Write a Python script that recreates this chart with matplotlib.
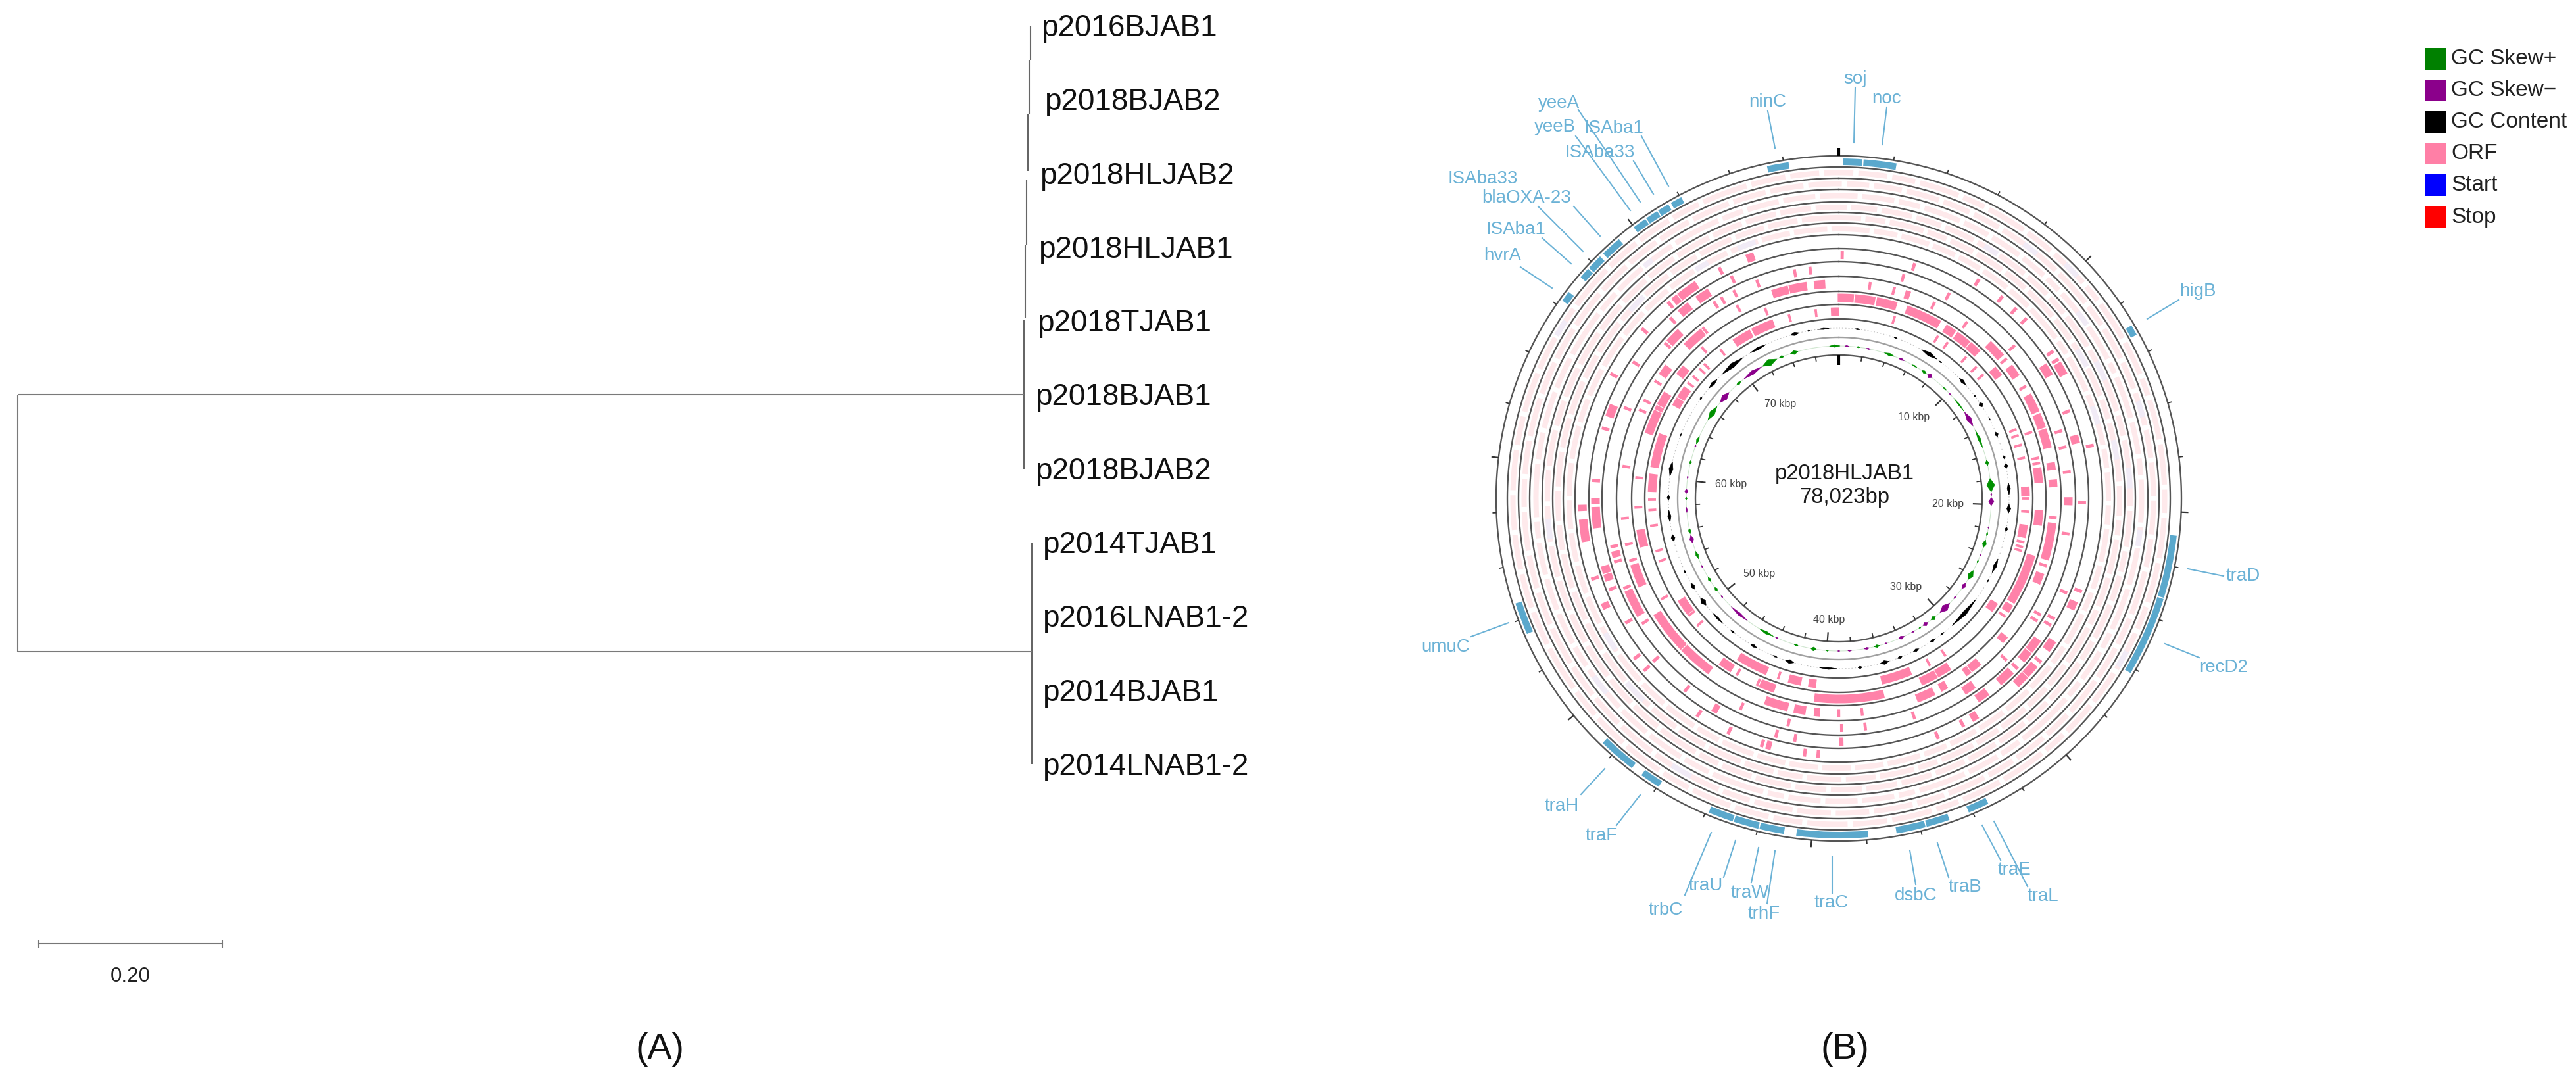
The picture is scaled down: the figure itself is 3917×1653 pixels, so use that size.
import numpy as np
import matplotlib
matplotlib.use("Agg")
import matplotlib.pyplot as plt

plt.rcParams['font.family'] = ['Liberation Sans', 'DejaVu Sans']

W, H = 3917, 1653
CX, CY = 2796, 758
RMAX = 750

# tree (A)
leaf_names = ['p2016BJAB1', 'p2018BJAB2', 'p2018HLJAB2', 'p2018HLJAB1', 'p2018TJAB1', 'p2018BJAB1',
              'p2018BJAB2', 'p2014TJAB1', 'p2016LNAB1-2', 'p2014BJAB1', 'p2014LNAB1-2']
leaf_label_dist = [1.1140, 1.1175, 1.1125, 1.1110, 1.1095, 1.1075, 1.1075, 1.1155, 1.1155, 1.1155, 1.1155]
# distance, first row, last row
ladder_x = [1.1024, 1.1012, 1.0995, 1.0984, 1.0966, 1.0952, 1.1038]
ladder_y0 = [0.00, 0.47, 1.20, 2.08, 2.97, 3.99, 7.00]
ladder_y1 = [0.47, 1.20, 1.97, 2.97, 3.95, 6.00, 10.00]
root_y = [5.0, 8.48]
root_end = [1.0952, 1.1038]
scale_len = 0.20

# plasmid map (B), all arcs in degrees clockwise from the 0 kbp tick
genome_kbp = 78.023
track_edges = [521, 504, 487, 470, 451, 435, 419, 401, 380, 360, 338, 315, 295, 273, 218]
gene_arcs = [(-12.2, -8.5), (0.7, 4.0), (4.2, 9.8), (-29.6, -27.6), (-37.1, -34.7), (-34.5, -32.3), (-32.1, -30.1),
             (-43.9, -40.3), (-47.3, -44.6), (-49.4, -47.5), (-54.4, -52.6), (59.4, 61.2), (96.3, 107), (107.2, 120.9),
             (246.5, 252), (217.5, 224), (212, 215.5), (189.3, 193.5), (193.7, 198), (198.2, 202.5), (175, 187.2),
             (161, 165), (165.2, 170.2), (153.9, 157.5)]

orf1_thin = [32.6, 39, 43, 46.2, 55.5, 57.6, 78.2, 111, 129, 151.3, 157.5, 213, 205.2, 197.3, 187.6, 184.6, 228.5,
             231.9, 245.7, 245, 251.9, 298.7, 310.8, 319, 332.6]
orf1_block = [(58.3, 61.3), (113.5, 115.5), (123.5, 126.1), (130.3, 133.3), (133.4, 136.4), (147.4, 149), (195.2, 196.4),
              (260.3, 265.3), (267.2, 268.6), (320, 321.5), (321.7, 326.5), (339, 340.8)]
orf2_thin = [0.8, 17.9, 69.2, 91, 112.5, 119.2, 120.9, 133.6, 218.6, 194.8, 190.3, 228.7, 239.7, 248.3, 274.2, 286.6,
             303.6, 317, 334.2]
orf2_block = [(56.9, 59.9), (75, 77), (125.2, 128.6), (128.8, 131.5), (135, 139), (142.5, 145.5), (178.9, 179.9),
              (209.6, 211), (250.3, 252), (252.2, 254), (263, 268), (268.7, 270.1), (289.5, 292.5), (319.4, 322.4),
              (324.6, 328)]
orf3_thin = [16.2, 28.3, 49, 73.1, 77.2, 83.4, 98.8, 120, 121.7, 134, 161, 173.4, 179.3, 192.6, 205, 237.5, 247.3, 258,
             254.2, 293, 311.8, 327.6, 329.7, 333.2, 339.4, 349, 352.9]
orf3_block = [(89.7, 91.7), (144.1, 147.1), (255.2, 256.8), (239.5, 246.5), (312.5, 316.5)]
orf4_thin = [8.3, 14.8, 26, 36, 50.2, 59, 95.1, 108, 173.8, 180, 253.4, 257.8, 264.7, 278.5, 294, 296.8, 302.6, 321.5,
             332.2]
orf4_block = [(17.9, 19.3), (44, 49), (52.3, 55.7), (61.3, 66.5), (67, 71), (71.3, 76.5), (80.4, 82.4), (85, 87),
              (96.5, 106.5), (110.2, 113.2), (129.4, 131.4), (139.4, 142.5), (142.7, 144.3), (150, 152), (153.8, 158.8),
              (185, 186.6), (188.8, 192), (193.6, 200), (216.6, 226), (226.2, 237.8), (246, 252.2), (304.7, 307.7),
              (314.9, 320.9), (342, 346.5), (346.7, 351.5), (353.4, 356.4)]
orf5_thin = [71, 78.5, 80, 125.4, 203.6, 210, 240.4, 267.5, 275.9, 317.8, 338.8]
orf5_block = [(-0.3, 4.3), (4.5, 10.4), (10.8, 16.7), (19.6, 30), (31.8, 35), (35.5, 40), (40.2, 43.8), (49.9, 52.9),
              (81.2, 85.6), (93.3, 97.7), (106.3, 121), (121.6, 124), (146.7, 150.9), (151.1, 156), (167, 187),
              (198.5, 203), (211.9, 215.9), (256.1, 261.1), (288.7, 295.7), (295.9, 297.2), (297.4, 301.5), (307.5, 310.5)]
orf6_thin = [17.1, 31.4, 34.9, 42, 46.3, 49.4, 68.7, 70.6, 73.6, 77.6, 90, 94, 103.3, 104.8, 106, 145.9, 151.4, 198.6,
             228, 232, 250.7, 253.9, 261.7, 266.5, 269.6, 307.5, 310, 313, 315, 321.5, 344.8, 353]
orf6_block = [(86.4, 89.4), (98, 102), (123.5, 126.5), (157.4, 166.9), (186.9, 189.3), (191.5, 195.5), (202.4, 212.3),
              (232.5, 237.5), (272, 277.5), (279.5, 290), (299.3, 302), (302.2, 306), (326.2, 332.2), (332.7, 339.7),
              (357.6, 360)]

# the six pale ORF rings: where each band is broken, and the lilac stretches
pale_gaps_1 = [3, 9, 14, 22, 27, 35, 41, 49, 53, 61, 68, 72, 80, 88, 93, 101, 109, 114, 122, 129, 136, 141, 150, 158,
               163, 171, 178, 186, 192, 199, 207, 213, 221, 228, 234, 243, 250, 257, 264, 271, 279, 285, 293, 300, 306,
               315, 322, 329, 335, 344, 351, 357]
pale_gaps_2 = [1, 6, 12, 19, 25, 31, 38, 44, 52, 57, 64, 70, 77, 83, 90, 97, 103, 112, 118, 125, 133, 139, 146, 152,
               160, 166, 174, 181, 188, 196, 202, 210, 216, 224, 231, 238, 246, 253, 260, 268, 274, 281, 289, 296, 303,
               311, 318, 325, 332, 340, 347, 354]
pale_gaps_3 = [4, 11, 16, 24, 30, 37, 43, 47, 55, 63, 66, 75, 82, 86, 95, 99, 107, 116, 120, 127, 131, 143, 148, 155,
               165, 169, 176, 183, 190, 194, 205, 211, 219, 226, 236, 241, 248, 255, 262, 266, 277, 283, 291, 298, 308,
               313, 320, 327, 337, 342, 349, 356]
pale_gaps_4 = [2, 8, 15, 21, 28, 33, 40, 46, 51, 59, 65, 73, 78, 85, 92, 100, 105, 111, 119, 124, 134, 140, 147, 154,
               161, 168, 175, 182, 189, 197, 204, 209, 218, 225, 232, 240, 247, 254, 261, 269, 276, 284, 290, 297, 305,
               312, 319, 326, 334, 341, 348, 355]
pale_gaps_5 = [5, 10, 18, 23, 29, 36, 42, 50, 56, 62, 69, 74, 81, 87, 94, 98, 106, 113, 117, 126, 132, 138, 145, 151,
               159, 164, 172, 179, 187, 193, 200, 208, 215, 222, 229, 237, 244, 251, 259, 265, 272, 280, 287, 295, 301,
               309, 316, 323, 330, 338, 345, 352]
pale_gaps_6 = [7, 13, 20, 26, 32, 39, 45, 54, 58, 67, 71, 79, 84, 91, 96, 104, 110, 115, 123, 128, 135, 142, 149, 156,
               162, 170, 177, 184, 191, 198, 206, 212, 220, 227, 235, 242, 249, 256, 263, 270, 278, 286, 292, 299, 307,
               314, 321, 328, 336, 343, 350, 358]
pale_lilac_1 = [(44, 47), (118, 121), (300, 303)]
pale_lilac_2 = [(36, 39), (72, 75), (208, 212)]
pale_lilac_3 = [(52, 55), (96, 99), (230, 234), (320, 322)]
pale_lilac_4 = [(30, 33), (62, 66), (84, 88), (262, 266)]
pale_lilac_5 = [(58, 62), (78, 82), (224, 229), (312, 316)]
pale_lilac_6 = [(-22, -18), (70, 74), (236, 240), (328, 331)]

# start, end, half height
skew_plus = [(330, 336, 5), (341.5, 344.5, 3), (337, 339, 2), (356.5, 360.5, 2), (301, 307, 4), (318, 320, 2), (291, 294, 2),
             (283, 284.5, 1.5), (269.5, 270.5, 1.5), (6.6, 8, 1), (17.4, 21.4, 2), (28.8, 30.8, 1), (33, 35, 2), (43.3, 44.7, 1),
             (49, 55, 1), (63.5, 70.5, 2), (75.5, 77.5, 2.5), (82.5, 87.5, 6), (102.8, 104.2, 1), (105.8, 108.8, 3),
             (113.9, 114.9, 1), (118.2, 122.2, 4), (140.7, 142.7, 3), (147.3, 148.3, 1), (164.5, 166.5, 2), (188.5, 190.5, 3),
             (183.9, 184.7, 1), (195.5, 197.1, 1.5), (205.4, 211.4, 2), (232.7, 234.3, 2), (236.9, 238.9, 2), (246.7, 249.7, 2),
             (256.7, 258.7, 2)]
skew_minus = [(321.6, 329.6, 3), (309, 314, 4.5), (271.9, 273.5, 2.5), (277.5, 278.5, 1), (289.5, 290.5, 1), (2.3, 3.7, 1),
              (10.4, 12, 1), (23, 25.4, 1.5), (35.6, 37.6, 3.5), (46.5, 47.5, 1), (55.6, 61.6, 3.5), (88, 89, 1),
              (89.7, 92.7, 4), (100.7, 101.3, 1), (111.6, 112.2, 1), (123.8, 126.2, 3), (130, 131, 1), (133.4, 138.4, 5),
              (144.4, 146.4, 3), (150.1, 151.5, 1), (154.6, 157, 2.5), (161.5, 162.5, 1), (168.4, 170.4, 1.5), (175.2, 176.6, 1),
              (179.6, 180.4, 1), (203.5, 204.5, 1), (216.8, 224.8, 2), (229.5, 230.5, 1), (243, 244, 1), (253, 256, 3),
              (264.7, 266.7, 1)]
gc_content = [(343.5, 346.5, 2.5), (352.8, 356.8, 1), (349.3, 350.3, 1), (328.7, 334.7, 2), (316.8, 325.8, 3.5), (310.4, 314.4, 2.5),
              (305.5, 306.5, 1.5), (291.4, 292.4, 1), (277.5, 282.5, 3), (269.3, 271.3, 2), (5.3, 7.3, 1), (18.9, 20.1, 1),
              (29.1, 35.1, 3), (36.2, 37.2, 1), (45.1, 48.1, 2.5), (55.8, 57.4, 3.5), (52.7, 53.3, 1), (62, 62.6, 1),
              (67.1, 68.7, 2.5), (75.5, 76.5, 2), (78.2, 79.8, 3), (84.7, 88.7, 2.5), (91.9, 94.9, 3), (99.6, 101.2, 2),
              (110.8, 115.8, 2.5), (118.5, 119.5, 1), (126.3, 138.3, 3), (141.8, 143.4, 1), (145.6, 147.6, 2), (152, 154, 2),
              (158.2, 159.8, 2), (162.9, 165.9, 3), (172.1, 173.5, 2), (180.5, 186.5, 1.5), (195.3, 198.3, 3), (201.2, 202.8, 1),
              (208.8, 211.2, 2), (217.7, 219.3, 1.5), (222.8, 227.8, 1.5), (231.2, 234.2, 4), (237.8, 240.2, 3), (244, 245, 1.5),
              (255.4, 257.8, 3), (262, 266, 2.5)]

tick_major_kbp = [0, 10, 20, 30, 40, 50, 60, 70]
tick_minor_kbp = [2, 4, 6, 8, 12, 14, 16, 18, 22, 24, 26, 28, 32, 34, 36, 38, 42, 44, 46, 48, 52, 54, 56, 58, 62, 64, 66,
                  68, 72, 74, 76]
kbp_labels = ['10 kbp', '20 kbp', '30 kbp', '40 kbp', '50 kbp', '60 kbp', '70 kbp']
kbp_label_xy = [(2910, 635), (2962, 767), (2898, 893), (2781, 942), (2675, 872), (2632, 737), (2707, 614)]

gene_names = ['soj', 'noc', 'ninC', 'yeeA', 'yeeB', 'ISAba1', 'ISAba33', 'ISAba33', 'blaOXA-23', 'ISAba1', 'hvrA', 'higB',
              'traD', 'recD2', 'umuC', 'traH', 'traF', 'trbC', 'traU', 'traW', 'trhF', 'traC', 'dsbC', 'traB', 'traE', 'traL']
gene_label_xy = [(2821, 120), (2869, 150), (2688, 155), (2371, 157), (2365, 193), (2454, 195), (2433, 232), (2255, 272),
                 (2321, 301), (2305, 349), (2285, 389), (3342, 443), (3411, 876), (3381, 1015), (2198, 984), (2375, 1226),
                 (2435, 1271), (2533, 1384), (2594, 1347), (2661, 1358), (2682, 1390), (2785, 1373), (2913, 1362),
                 (2988, 1349), (3063, 1323), (3106, 1363)]
gene_leaders = [((2821, 133), (2819, 217)), ((2869, 163), (2862, 220)), ((2688, 169), (2699, 225)), ((2400, 167), (2494, 307)),
                ((2396, 207), (2479, 320)), ((2496, 207), (2537, 283)), ((2484, 245), (2514, 295)), ((2393, 314), (2433, 359)),
                ((2339, 314), (2407, 382)), ((2345, 362), (2389, 401)), ((2312, 406), (2360, 438)), ((3313, 456), (3265, 485)),
                ((3381, 876), (3327, 865)), ((3344, 1000), (3292, 979)), ((2237, 968), (2294, 947)), ((2404, 1208), (2440, 1169)),
                ((2458, 1255), (2494, 1209)), ((2562, 1361), (2602, 1266)), ((2621, 1334), (2639, 1278)), ((2663, 1342), (2674, 1289)),
                ((2687, 1374), (2699, 1294)), ((2786, 1358), (2786, 1303)), ((2913, 1345), (2904, 1293)), ((2963, 1334), (2946, 1282)),
                ((3042, 1308), (3014, 1255)), ((3083, 1348), (3032, 1249))]

legend_names = ['GC Skew+', 'GC Skew\u2212', 'GC Content', 'ORF', 'Start', 'Stop']
legend_colors = ['#008000', '#8b008b', '#000000', '#ff7fa6', '#0000ff', '#ff0000']

PINK = '#ff82a9'
PALE = '#fee9eb'
LILAC = '#f1ebf6'
BLUE_ARC = '#5aa8cc'
BLUE_TXT = '#6bb2d6'
RING = '#555555'

fig = plt.figure(figsize=(W / 100, H / 100), dpi=100, facecolor='white')

# page layer in pixels, used for text and leader lines
page = fig.add_axes([0, 0, 1, 1], zorder=3)
page.set_xlim(0, W)
page.set_ylim(H, 0)
page.axis('off')
page.patch.set_alpha(0)

# tree, x in substitutions per site, y in leaf rows
ROOT_PX, UNIT_PX = 27, 1397
ROW0_PX, ROW_PX = 39, 112.3
tree = fig.add_axes([0, 0, 1, 1], zorder=1)
tree.set_xlim(-ROOT_PX / UNIT_PX, (W - ROOT_PX) / UNIT_PX)
tree.set_ylim((H - ROW0_PX) / ROW_PX, -ROW0_PX / ROW_PX)
tree.axis('off')
tree.vlines(ladder_x, ladder_y0, ladder_y1, color='#666666', lw=1.5)
tree.hlines(root_y, 0, root_end, color='#7a7a7a', lw=1.5)
tree.vlines(0, root_y[0], root_y[1], color='#7a7a7a', lw=1.5)
for i, name in enumerate(leaf_names):
    tree.text(leaf_label_dist[i], i + 16 / ROW_PX, name, fontsize=33, color='#111111', va='baseline', ha='left')

page.plot([59, 59 + scale_len * UNIT_PX], [1435, 1435], color='#777777', lw=1.5)
page.vlines([59, 59 + scale_len * UNIT_PX], 1429, 1441, color='#777777', lw=1.5)
page.text(198, 1485, '0.20', fontsize=22.5, color='#222222', ha='center', va='center')
page.text(1004, 1596, '(A)', fontsize=40, color='#111111', ha='center', va='center')
page.text(2805, 1596, '(B)', fontsize=40, color='#111111', ha='center', va='center')

# plasmid map
ax = fig.add_axes([(CX - RMAX) / W, (H - CY - RMAX) / H, 2 * RMAX / W, 2 * RMAX / H], projection='polar', zorder=2)
ax.set_theta_zero_location('N')
ax.set_theta_direction(-1)
ax.set_rlim(0, RMAX)
ax.set_axis_off()


def draw_arcs(arcs, r_mid, height, color):
    s = np.radians([a[0] for a in arcs])
    e = np.radians([a[1] for a in arcs])
    ax.bar((s + e) / 2, height, width=e - s, bottom=r_mid - height / 2, color=color, linewidth=0, zorder=2)


def draw_orfs(thin, block, r_mid):
    draw_arcs([(c - 0.38, c + 0.38) for c in thin], r_mid, 12, PINK)
    draw_arcs(block, r_mid, 13, PINK)


def draw_profile(items, r_mid, color):
    # pointed blobs on the baseline, like the ones the map software draws
    for start, end, amp in items:
        s, e = np.radians(start), np.radians(end)
        m = (s + e) / 2
        ax.fill([s, m, e, m], [r_mid, r_mid + amp, r_mid, r_mid - amp], color=color, linewidth=0.5, zorder=3)


pale_rings = [(495.5, pale_gaps_1, pale_lilac_1), (478.5, pale_gaps_2, pale_lilac_2), (460.5, pale_gaps_3, pale_lilac_3),
              (443, pale_gaps_4, pale_lilac_4), (427, pale_gaps_5, pale_lilac_5), (410, pale_gaps_6, pale_lilac_6)]
for r_mid, gaps, lilac in pale_rings:
    pieces = [(a + 0.45, b - 0.45) for a, b in zip(gaps, gaps[1:] + [gaps[0] + 360])]
    draw_arcs(pieces, r_mid, 8, PALE)
    draw_arcs(lilac, r_mid, 8, LILAC)

draw_arcs(gene_arcs, 512, 10, BLUE_ARC)
draw_orfs(orf1_thin, orf1_block, 390)
draw_orfs(orf2_thin, orf2_block, 370)
draw_orfs(orf3_thin, orf3_block, 349)
draw_orfs(orf4_thin, orf4_block, 326.5)
draw_orfs(orf5_thin, orf5_block, 305)
draw_orfs(orf6_thin, orf6_block, 284)

circle = np.linspace(0, 2 * np.pi, 721)
ax.plot(circle, np.full_like(circle, 259), color='#bbbbbb', lw=0.7, ls=(0, (2, 3)), zorder=2)
ax.plot(circle, np.full_like(circle, 232), color='#cfe6cf', lw=0.8, zorder=2)
draw_profile(gc_content, 259, '#000000')
draw_profile(skew_plus, 232, '#009000')
draw_profile(skew_minus, 232, '#8b008b')

for r in track_edges:
    ax.plot(circle, np.full_like(circle, r), color=RING, lw=1.7, zorder=4)
ax.plot(circle, np.full_like(circle, 245), color='#a0a0a0', lw=1.7, zorder=4)

major = np.radians(tick_major_kbp) * 360 / genome_kbp
minor = np.radians(tick_minor_kbp) * 360 / genome_kbp
ax.vlines(major, 521, 532, color='#333333', lw=1.6, zorder=4)
ax.vlines(minor, 521, 527, color='#333333', lw=1.3, zorder=4)
ax.vlines(major, 204, 218, color='#333333', lw=1.6, zorder=4)
ax.vlines(minor, 211, 218, color='#333333', lw=1.3, zorder=4)
ax.vlines(0, 521, 533, color='black', lw=3, zorder=4)
ax.vlines(0, 203, 218, color='black', lw=3, zorder=4)

for name, (x, y) in zip(kbp_labels, kbp_label_xy):
    page.text(x, y, name, fontsize=11.5, color='#444444', ha='center', va='center')
page.text(2805, 720, 'p2018HLJAB1', fontsize=23.7, color='#1a1a1a', ha='center', va='center', fontweight='medium')
page.text(2805, 757, '78,023bp', fontsize=23.7, color='#1a1a1a', ha='center', va='center')

for name, (x, y), (p0, p1) in zip(gene_names, gene_label_xy, gene_leaders):
    page.plot([p0[0], p1[0]], [p0[1], p1[1]], color=BLUE_TXT, lw=1.5)
    page.text(x, y, name, fontsize=20, color=BLUE_TXT, ha='center', va='center')

# legend
for i, (name, col) in enumerate(zip(legend_names, legend_colors)):
    top = 73 + 48 * i
    page.add_patch(plt.Rectangle((3687, top), 33, 33, facecolor=col, edgecolor='none'))
    page.text(3727, top + 17, name, fontsize=24, color='#222222', ha='left', va='center')

fig.savefig('out.png', dpi=100)
plt.close('all')
print('finished')
